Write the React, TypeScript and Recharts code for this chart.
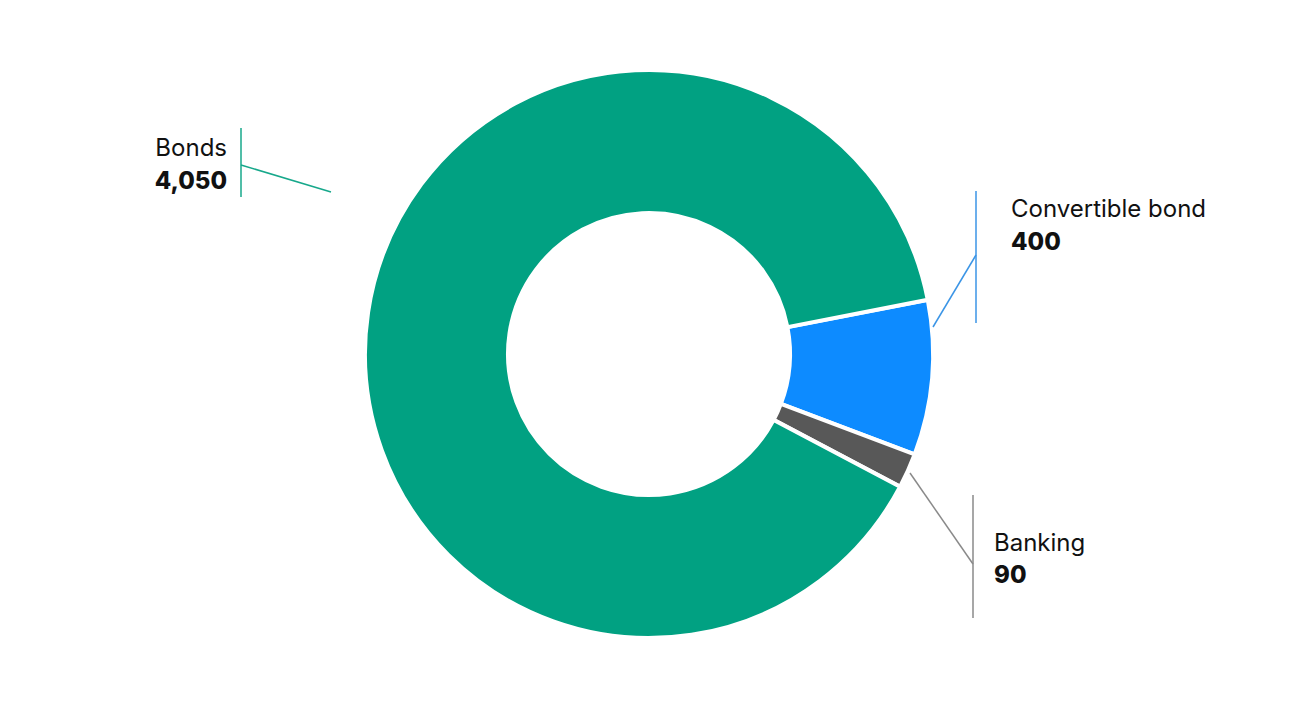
import { PieChart, Pie, Cell } from "recharts";

// slices in drawing order, clockwise from the top of the blue slice
const categories = ["Convertible bond", "Banking", "Bonds"];
const values = [400, 90, 4050];
const valueLabels = ["400", "90", "4,050"];
const colors = ["#0d8bff", "#585858", "#01a182"];
const lineColors = ["#3b95e6", "#8a8a8a", "#17a88b"];

const chartData = categories.map((name, i) => ({ name, value: values[i] }));

// label layout, offsets from the pie centre
const LABEL_LAYOUT: Record<
  string,
  {
    start: [number, number];
    elbow: [number, number];
    bar: [number, number];
    textX: number;
    textY: [number, number];
    anchor: "start" | "end";
  }
> = {
  Bonds: { start: [-318, -162], elbow: [-408, -189], bar: [-226, -157], textX: -422, textY: [-198, -165], anchor: "end" },
  "Convertible bond": { start: [284, -27], elbow: [327, -99], bar: [-163, -31], textX: 362, textY: [-137, -104], anchor: "start" },
  Banking: { start: [261, 119], elbow: [324, 210], bar: [141, 264], textX: 345, textY: [197, 229], anchor: "start" },
};

const FONT = "Inter, 'Noto Sans', sans-serif";

function renderLabel(props: any) {
  const { cx, cy, index, name } = props;
  const layout = LABEL_LAYOUT[name];
  if (!layout) return null;
  const color = lineColors[index];
  const tx = cx + layout.textX;
  return (
    <g key={`label-${name}`}>
      <line
        x1={cx + layout.start[0]}
        y1={cy + layout.start[1]}
        x2={cx + layout.elbow[0]}
        y2={cy + layout.elbow[1]}
        stroke={color}
        strokeWidth={1.5}
      />
      <line
        x1={cx + layout.elbow[0]}
        y1={cy + layout.bar[0]}
        x2={cx + layout.elbow[0]}
        y2={cy + layout.bar[1]}
        stroke={color}
        strokeWidth={1.5}
      />
      <text x={tx} y={cy + layout.textY[0]} textAnchor={layout.anchor} fontFamily={FONT} fontSize={24} fill="#111">
        {name}
      </text>
      <text
        x={tx}
        y={cy + layout.textY[1]}
        textAnchor={layout.anchor}
        fontFamily={FONT}
        fontSize={24}
        fontWeight={800}
        fill="#111"
      >
        {valueLabels[index]}
      </text>
    </g>
  );
}

export default function App() {
  return (
    <div style={{ position: "absolute", left: 0, top: 0, width: 1300, height: 709, background: "#fff" }}>
      <PieChart width={1300} height={709} margin={{ top: 0, right: 0, bottom: 0, left: 0 }}>
        <Pie
          data={chartData}
          dataKey="value"
          nameKey="name"
          cx={649}
          cy={354}
          innerRadius={141}
          outerRadius={284}
          startAngle={11}
          endAngle={-349}
          stroke="#ffffff"
          strokeWidth={4}
          label={renderLabel}
          labelLine={false}
          isAnimationActive={false}
        >
          {chartData.map((d, i) => (
            <Cell key={d.name} fill={colors[i]} />
          ))}
        </Pie>
      </PieChart>
    </div>
  );
}
